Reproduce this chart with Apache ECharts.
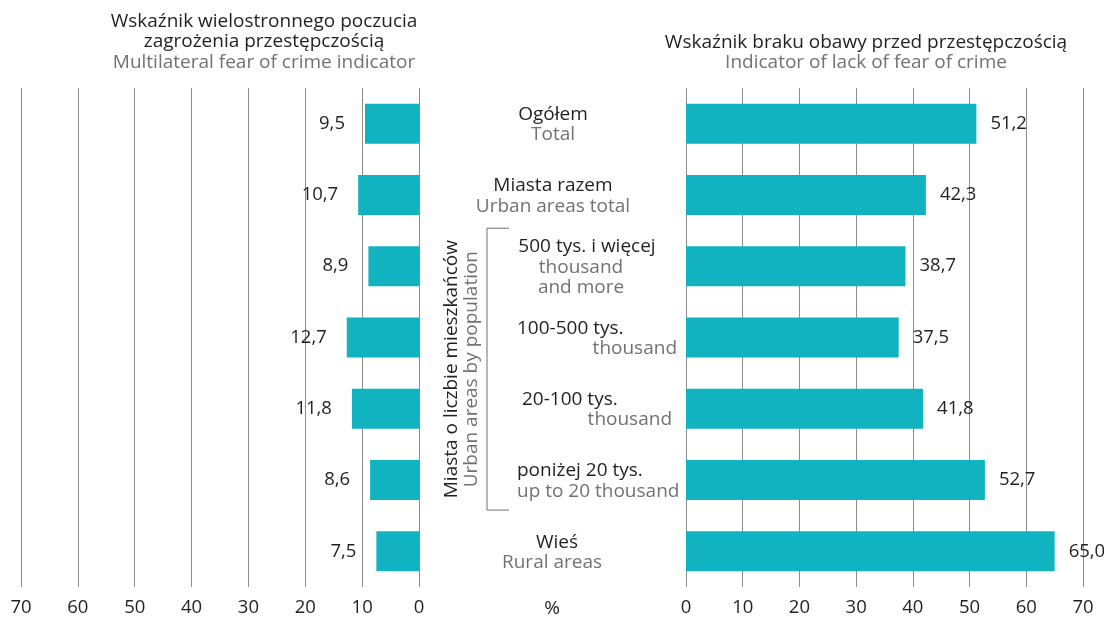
<!DOCTYPE html>
<html>
<head>
<meta charset="utf-8">
<script src="https://cdn.jsdelivr.net/npm/echarts@6/dist/echarts.min.js"></script>
<style>
  html, body { margin: 0; height: 100%; background: #fff; }
  #main { width: 1104px; height: 617px; }
</style>
</head>
<body>
<div id="main"></div>
<script>
// categories: Polish line + English line(s)
var categories = ['Ogółem', 'Miasta razem', '500 tys. i więcej', '100-500 tys.', '20-100 tys.', 'poniżej 20 tys.', 'Wieś'];
var categoriesEn = ['Total', 'Urban areas total', 'thousand\nand more', 'thousand', 'thousand', 'up to 20 thousand', 'Rural areas'];
// Wskaźnik wielostronnego poczucia zagrożenia przestępczością
var fearIndex = [9.5, 10.7, 8.9, 12.7, 11.8, 8.6, 7.5];
// Wskaźnik braku obawy przed przestępczością
var noFearIndex = [51.2, 42.3, 38.7, 37.5, 41.8, 52.7, 65.0];

var FONT = '"Open Sans", sans-serif';
var BLACK = '#231f20';
var GREY = '#717275';
var TEAL = '#12b3c0';
var LINE = '#8c8c8c';

// where each centre label sits (x anchor + alignment), Polish line then English
var labelPlace = [
  ['center', 553, 'center', 553],
  ['center', 553, 'center', 553],
  ['center', 587, 'center', 581],
  ['left', 517, 'right', 677],
  ['left', 522, 'right', 672],
  ['left', 517, 'left', 517],
  ['center', 557, 'center', 552]
];

var chart = echarts.init(document.getElementById('main'));

function fmt(p) {
  return p.value.toFixed(1).replace('.', ',');
}

function valueAxis(idx, inverse) {
  return {
    gridIndex: idx,
    type: 'value',
    inverse: inverse,
    min: 0,
    max: 70,
    interval: 10,
    axisLine: { show: false },
    axisTick: { show: false },
    splitLine: { show: true, lineStyle: { color: LINE, width: 1 } },
    axisLabel: { color: BLACK, fontSize: 18.5, fontFamily: FONT, margin: 11 }
  };
}

var labelStyle = { show: true, color: BLACK, fontSize: 18.5, fontFamily: FONT };

var option = {
  animation: false,
  grid: [
    { left: 21, right: 685, top: 88, bottom: 27 },
    { left: 686, right: 21, top: 88, bottom: 27 }
  ],
  xAxis: [valueAxis(0, true), valueAxis(1, false)],
  yAxis: [
    { gridIndex: 0, type: 'category', inverse: true, data: categories, show: false },
    { gridIndex: 1, type: 'category', inverse: true, data: categories, show: false }
  ],
  series: [
    {
      type: 'bar', xAxisIndex: 0, yAxisIndex: 0, data: fearIndex, barWidth: 40,
      itemStyle: { color: TEAL },
      label: Object.assign({ position: 'left', distance: 20, formatter: fmt }, labelStyle)
    },
    {
      type: 'bar', xAxisIndex: 1, yAxisIndex: 1, data: noFearIndex, barWidth: 40,
      itemStyle: { color: TEAL },
      label: Object.assign({ position: 'right', distance: 14, formatter: fmt }, labelStyle)
    }
  ]
};

chart.setOption(option);

var lh = 20.5;

function txt(x, y, text, color, align, vAlign, rot) {
  return {
    type: 'text', x: x, y: y, rotation: rot || 0, silent: true,
    style: {
      text: text, fill: color, font: '19px ' + FONT,
      align: align, verticalAlign: vAlign || 'middle', lineHeight: lh
    }
  };
}

var g = [];
categories.forEach(function (c, i) {
  var cy = chart.convertToPixel({ yAxisIndex: 1 }, c) + 1;
  var n = categoriesEn[i].split('\n').length;
  var first = cy - n * lh / 2;
  var p = labelPlace[i];
  g.push(txt(p[1], first, c, BLACK, p[0]));
  g.push(txt(p[3], first + lh / 2, categoriesEn[i], GREY, p[2], 'top'));
});

// bracket for city-size groups
var bTop = chart.convertToPixel({ yAxisIndex: 1 }, categories[2]) - 38;
var bBot = chart.convertToPixel({ yAxisIndex: 1 }, categories[5]) + 30;
var bMid = (bTop + bBot) / 2;
g.push({
  type: 'polyline', silent: true,
  shape: { points: [[509, bTop], [487, bTop], [487, bBot], [509, bBot]] },
  style: { stroke: '#6d6e71', lineWidth: 1, fill: null }
});
g.push(txt(452, bMid, 'Miasta o liczbie mieszkańców', BLACK, 'center', 'middle', Math.PI / 2));
g.push(txt(472, bMid, 'Urban areas by population', GREY, 'center', 'middle', Math.PI / 2));

// titles
g.push(txt(264, 22, 'Wskaźnik wielostronnego poczucia', BLACK, 'center'));
g.push(txt(264, 42, 'zagrożenia przestępczością', BLACK, 'center'));
g.push(txt(264, 63, 'Multilateral fear of crime indicator', GREY, 'center'));
g.push(txt(866, 43, 'Wskaźnik braku obawy przed przestępczością', BLACK, 'center'));
g.push(txt(866, 63, 'Indicator of lack of fear of crime', GREY, 'center'));
g.push(txt(552, 609, '%', BLACK, 'center'));

chart.setOption({ graphic: g });
</script>
</body>
</html>
